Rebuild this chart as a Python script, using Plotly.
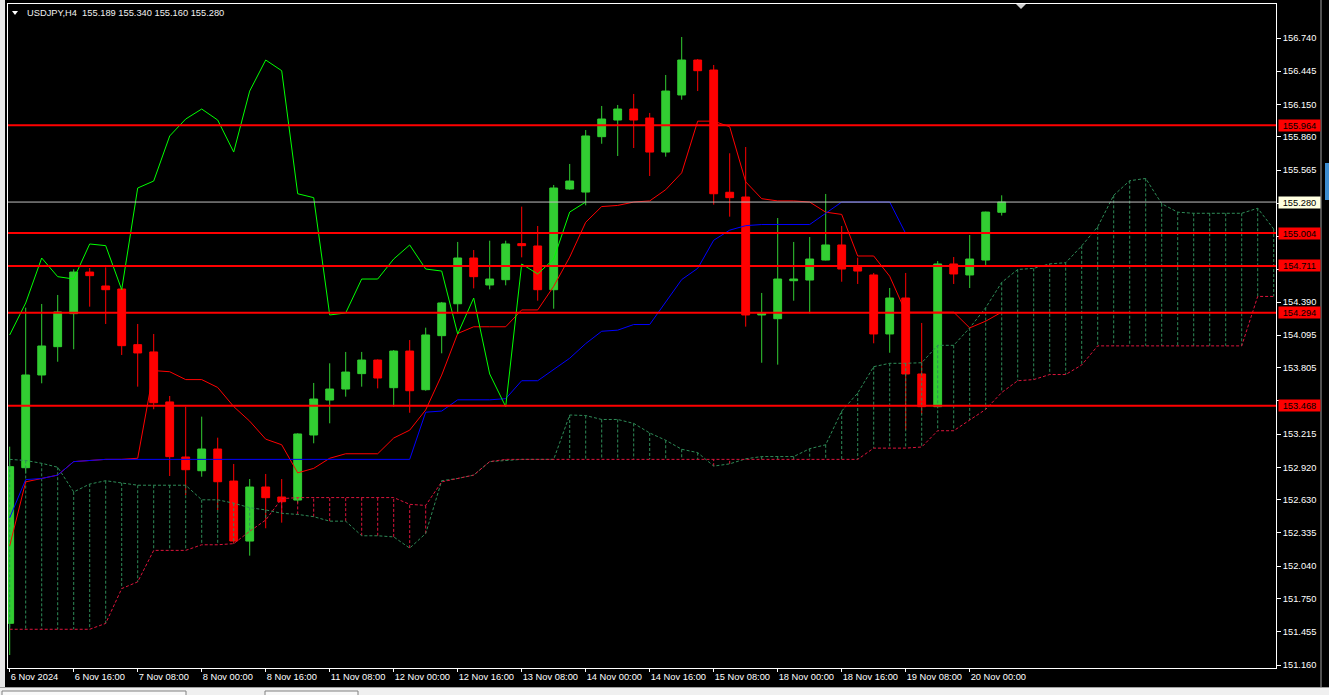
import plotly.graph_objects as go

# ---------------- data ----------------
opens = [151.531, 152.916, 153.741, 153.993, 154.287, 154.657, 154.533, 154.506, 154.011, 153.946,
         153.501, 153.011, 152.889, 153.082, 152.797, 152.263, 152.744, 152.655, 152.628, 153.207,
         153.518, 153.616, 153.753, 153.874, 153.628, 153.954, 153.610, 154.091, 154.375, 154.782,
         154.542, 154.589, 154.910, 154.889, 154.500, 155.396, 155.369, 155.862, 156.010, 156.108,
         156.028, 155.725, 156.233, 156.544, 156.455, 155.367, 155.325, 154.275, 154.242, 154.580,
         154.586, 154.764, 154.898, 154.714, 154.631, 154.106, 154.426, 153.750, 153.459, 154.729,
         154.631, 154.764, 155.189]
highs = [153.103, 154.340, 154.373, 154.453, 154.681, 154.693, 154.699, 154.510, 154.195, 154.106,
         153.554, 153.459, 153.370, 153.183, 152.949, 152.815, 152.860, 152.815, 153.222, 153.670,
         153.845, 153.946, 153.946, 153.880, 153.963, 154.052, 154.162, 154.391, 154.925, 154.853,
         154.936, 154.936, 155.239, 155.067, 155.432, 155.619, 155.921, 156.135, 156.144, 156.242,
         156.073, 156.411, 156.749, 156.553, 156.500, 155.714, 155.770, 154.471, 155.138, 154.925,
         154.969, 155.352, 155.067, 154.785, 154.649, 154.515, 154.649, 154.204, 154.755, 154.791,
         154.987, 155.195, 155.340]
lows = [151.249, 152.866, 153.667, 153.859, 153.970, 154.349, 154.195, 153.919, 153.637, 153.436,
        152.842, 152.673, 152.836, 152.539, 152.240, 152.133, 152.377, 152.427, 152.604, 153.133,
        153.311, 153.548, 153.637, 153.622, 153.459, 153.405, 153.601, 153.934, 154.290, 154.512,
        154.503, 154.539, 154.788, 154.402, 154.331, 155.390, 155.251, 155.799, 155.690, 155.761,
        155.512, 155.684, 156.191, 156.268, 155.257, 155.150, 154.171, 153.850, 153.833, 154.402,
        154.290, 154.760, 154.571, 154.551, 154.023, 153.939, 153.251, 153.394, 153.455, 154.551,
        154.515, 154.711, 155.160]
closes = [152.925, 153.741, 153.999, 154.302, 154.657, 154.625, 154.500, 154.002, 153.937, 153.494,
          153.014, 152.898, 153.082, 152.791, 152.263, 152.744, 152.649, 152.613, 153.216, 153.527,
          153.616, 153.767, 153.874, 153.714, 153.954, 153.601, 154.097, 154.382, 154.782, 154.616,
          154.595, 154.907, 154.892, 154.500, 155.405, 155.467, 155.868, 156.019, 156.108, 156.010,
          155.725, 156.268, 156.544, 156.449, 155.354, 155.319, 154.275, 154.293, 154.595, 154.595,
          154.773, 154.898, 154.684, 154.666, 154.106, 154.426, 153.750, 153.459, 154.729, 154.640,
          154.773, 155.191, 155.280]

tenkan = [152.22, 152.79, 152.82, 152.85, 152.97, 152.98, 152.99, 152.99, 153.00, 153.78,
          153.77, 153.70, 153.70, 153.63, 153.46, 153.33, 153.17, 153.12, 152.87, 152.91,
          153.00, 153.04, 153.04, 153.04, 153.18, 153.25, 153.43, 153.74, 154.11, 154.17,
          154.17, 154.17, 154.32, 154.32, 154.53, 154.79, 155.10, 155.24, 155.25, 155.28,
          155.29, 155.39, 155.54, 156.00, 156.00, 155.95, 155.46, 155.31, 155.29, 155.29,
          155.28, 155.19, 155.17, 154.80, 154.80, 154.62, 154.30, 154.30, 154.30, 154.30,
          154.16, 154.22, 154.30]
kijun = [152.47, 152.81, 152.82, 152.85, 152.97, 152.98, 152.99, 152.99, 152.99, 152.99,
         152.99, 152.99, 152.99, 152.99, 152.99, 152.99, 152.99, 152.99, 152.99, 152.99,
         152.99, 152.99, 152.99, 152.99, 152.99, 152.99, 153.41, 153.42, 153.52, 153.52,
         153.52, 153.53, 153.69, 153.69, 153.79, 153.89, 154.02, 154.13, 154.14, 154.19,
         154.19, 154.39, 154.59, 154.69, 154.94, 155.03, 155.07, 155.08, 155.08, 155.08,
         155.08, 155.18, 155.28, 155.28, 155.28, 155.28, 155.00, 155.00, 155.00, 155.00,
         155.00, 155.00, 155.00]
span_a = [152.99, 152.98, 152.955, 152.92, 152.70, 152.77, 152.80, 152.78, 152.76, 152.76,
          152.76, 152.76, 152.63, 152.63, 152.60, 152.56, 152.54, 152.51, 152.50, 152.48,
          152.44, 152.44, 152.31, 152.31, 152.30, 152.20, 152.33, 152.80, 152.82, 152.85,
          152.97, 152.98, 152.99, 152.99, 152.99, 153.385, 153.38, 153.345, 153.345, 153.31,
          153.225, 153.16, 153.08, 153.05, 152.93, 152.95, 152.995, 153.015, 153.015, 153.015,
          153.085, 153.12, 153.42, 153.58, 153.815, 153.845, 153.845, 153.85, 154.005, 154.005,
          154.16, 154.34, 154.565, 154.68, 154.69, 154.73, 154.74, 154.89, 155.06, 155.34,
          155.47, 155.49, 155.265, 155.19, 155.18, 155.18, 155.18, 155.18, 155.225, 155.04]
span_b = [151.478, 151.478, 151.478, 151.478, 151.478, 151.478, 151.53, 151.84, 151.90, 152.18,
          152.18, 152.18, 152.23, 152.23, 152.24, 152.35, 152.45, 152.64, 152.65, 152.65,
          152.65, 152.65, 152.65, 152.65, 152.65, 152.59, 152.58, 152.79, 152.82, 152.85,
          152.97, 152.99, 152.99, 152.99, 152.99, 152.99, 152.99, 152.99, 152.99, 152.99,
          152.99, 152.99, 152.99, 152.99, 152.99, 152.99, 152.99, 152.99, 152.99, 152.99,
          152.99, 152.99, 152.99, 152.99, 153.09, 153.09, 153.09, 153.10, 153.245, 153.245,
          153.34, 153.435, 153.585, 153.69, 153.70, 153.745, 153.745, 153.83, 154.00, 154.00,
          154.00, 154.00, 154.00, 154.00, 154.00, 154.00, 154.00, 154.00, 154.44, 154.44]

level_prices = [155.964, 155.004, 154.711, 154.294, 153.468]
bid_price = 155.280
chikou_shift = 26

time_labels = ["6 Nov 2024", "6 Nov 16:00", "7 Nov 08:00", "8 Nov 00:00", "8 Nov 16:00",
               "11 Nov 08:00", "12 Nov 00:00", "12 Nov 16:00", "13 Nov 08:00", "14 Nov 00:00",
               "14 Nov 16:00", "15 Nov 08:00", "18 Nov 00:00", "18 Nov 16:00", "19 Nov 08:00",
               "20 Nov 00:00"]
time_label_bars = list(range(0, 64, 4))
price_ticks = [156.740, 156.445, 156.150, 155.860, 155.565, 155.270, 154.975, 154.680, 154.390,
               154.095, 153.805, 153.510, 153.215, 152.920, 152.630, 152.335, 152.040, 151.750,
               151.455, 151.160]
# tick values whose labels sit behind the price boxes on the right
hidden_ticks = [155.270, 154.975, 154.680, 153.510]
title_text = "USDJPY,H4  155.189 155.340 155.160 155.280"

# ---------------- layout geometry ----------------
W, H = 1329, 695
ML, MR, MT, MB = 8, 53, 4, 27
PW, PH = W - ML - MR, H - MT - MB
XR = [-0.106, 79.144]
YR = [151.1333, 157.0426]
FONT = "Liberation Sans"
FS = 9.3

def px(xp):
    return (xp - ML) / PW

def py(yp):
    return (H - MB - yp) / PH

bars = list(range(len(closes)))
cloud_x = list(range(len(span_a)))

fig = go.Figure()

# cloud hatching (vertical dotted lines between span A and span B)
hx_g, hy_g, hx_r, hy_r = [], [], [], []
for i, (a, b) in enumerate(zip(span_a, span_b)):
    if a >= b:
        hx_g += [i, i, None]; hy_g += [a, b, None]
    else:
        hx_r += [i, i, None]; hy_r += [a, b, None]
fig.add_trace(go.Scatter(x=hx_g, y=hy_g, mode="lines",
                         line=dict(color="#2E8B57", width=1, dash="3px,2px"), hoverinfo="skip"))
fig.add_trace(go.Scatter(x=hx_r, y=hy_r, mode="lines",
                         line=dict(color="#DC143C", width=1, dash="3px,2px"), hoverinfo="skip"))
fig.add_trace(go.Scatter(x=cloud_x, y=span_a, mode="lines",
                         line=dict(color="#2E8B57", width=1, dash="3px,2px"), hoverinfo="skip"))
fig.add_trace(go.Scatter(x=cloud_x, y=span_b, mode="lines",
                         line=dict(color="#DC143C", width=1, dash="3px,2px"), hoverinfo="skip"))
fig.add_trace(go.Scatter(x=bars, y=tenkan, mode="lines",
                         line=dict(color="#FF0000", width=1), hoverinfo="skip"))
fig.add_trace(go.Scatter(x=bars, y=kijun, mode="lines",
                         line=dict(color="#0000FF", width=1), hoverinfo="skip"))
chikou = closes[chikou_shift:]
fig.add_trace(go.Scatter(x=bars[:len(chikou)], y=chikou, mode="lines",
                         line=dict(color="#00FF00", width=1), hoverinfo="skip"))

# horizontal levels (drawn above indicators, below candles)
for p in level_prices:
    fig.add_trace(go.Scatter(x=XR, y=[p, p], mode="lines",
                             line=dict(color="#FF0000", width=2), hoverinfo="skip"))
fig.add_trace(go.Scatter(x=XR, y=[bid_price, bid_price], mode="lines",
                         line=dict(color="#C0C0C0", width=1), hoverinfo="skip"))

# candles
fig.add_trace(go.Candlestick(
    x=bars, open=opens, high=highs, low=lows, close=closes,
    increasing=dict(line=dict(color="#32CD32", width=1), fillcolor="#32CD32"),
    decreasing=dict(line=dict(color="#FF0000", width=1), fillcolor="#FF0000"),
    whiskerwidth=0, hoverinfo="skip"))

annotations = []
for p in level_prices:
    annotations.append(dict(x=px(1278), xref="paper", y=p, yref="y", text=f"{p:.3f}",
                            showarrow=False, xanchor="left", yanchor="middle",
                            width=41, height=11, bgcolor="#FF0000", borderpad=0,
                            font=dict(family=FONT, size=FS, color="#000000")))
annotations.append(dict(x=px(1278), xref="paper", y=bid_price, yref="y", text=f"{bid_price:.3f}",
                        showarrow=False, xanchor="left", yanchor="middle",
                        width=41, height=11, bgcolor="#FFFFE0", borderpad=0,
                        font=dict(family=FONT, size=FS, color="#000000")))
annotations.append(dict(x=px(25), xref="paper", y=py(12.5), yref="paper", text=title_text,
                        showarrow=False, xanchor="left", yanchor="middle",
                        font=dict(family=FONT, size=FS, color="#F0F0F0")))

shapes = [
    # window frame pieces outside the chart
    dict(type="rect", xref="paper", yref="paper", x0=px(0), x1=px(5), y0=py(0), y1=py(H),
         fillcolor="#E6E6E6", line=dict(width=0), layer="above"),
    dict(type="rect", xref="paper", yref="paper", x0=px(0), x1=px(W), y0=py(688), y1=py(H),
         fillcolor="#F0F0F0", line=dict(width=0), layer="above"),
    dict(type="line", xref="paper", yref="paper", x0=px(0), x1=px(W), y0=py(687.5), y1=py(687.5),
         line=dict(color="#A0A0A0", width=1), layer="above"),
    dict(type="rect", xref="paper", yref="paper", x0=px(2), x1=px(186), y0=py(691), y1=py(H + 2),
         fillcolor="#F8F8F8", line=dict(color="#808080", width=1), layer="above"),
    dict(type="rect", xref="paper", yref="paper", x0=px(265), x1=px(358), y0=py(691), y1=py(H + 2),
         fillcolor="#F8F8F8", line=dict(color="#808080", width=1), layer="above"),
    dict(type="line", xref="paper", yref="paper", x0=px(1321), x1=px(1321), y0=py(0), y1=py(688),
         line=dict(color="#A0A0A0", width=1), layer="above"),
    dict(type="rect", xref="paper", yref="paper", x0=px(1325), x1=px(W), y0=py(163), y1=py(200),
         fillcolor="#3C8CD0", line=dict(width=0), layer="above"),
    # title triangle and chart-shift marker
    dict(type="path", xref="paper", yref="paper",
         path=f"M {px(12)},{py(11)} L {px(18)},{py(11)} L {px(15)},{py(15)} Z",
         fillcolor="#FFFFFF", line=dict(width=0), layer="above"),
    dict(type="path", xref="paper", yref="paper",
         path=f"M {px(1016)},{py(4)} L {px(1026)},{py(4)} L {px(1021)},{py(9)} Z",
         fillcolor="#D0D0D0", line=dict(width=0), layer="above"),
]

y_ticktext = ["" if v in hidden_ticks else f"{v:.3f}" for v in price_ticks]

fig.update_layout(
    width=W, height=H, autosize=False,
    margin=dict(l=ML, r=MR, t=MT, b=MB, pad=0, autoexpand=False),
    paper_bgcolor="#000000", plot_bgcolor="#000000",
    showlegend=False, hovermode=False,
    annotations=annotations, shapes=shapes,
    xaxis=dict(range=XR, showgrid=False, zeroline=False, rangeslider=dict(visible=False),
               automargin=False, tickangle=0,
               tickmode="array", tickvals=time_label_bars, ticktext=time_labels,
               ticks="outside", ticklen=3, tickcolor="#FFFFFF", ticklabelposition="outside right",
               tickfont=dict(family=FONT, size=FS, color="#FFFFFF"),
               showline=True, linecolor="#FFFFFF", linewidth=1, mirror=True, fixedrange=True),
    yaxis=dict(range=YR, side="right", showgrid=False, zeroline=False, automargin=False,
               tickmode="array", tickvals=price_ticks, ticktext=y_ticktext,
               ticks="outside", ticklen=4, tickcolor="#FFFFFF",
               tickfont=dict(family=FONT, size=FS, color="#FFFFFF"),
               showline=True, linecolor="#FFFFFF", linewidth=1, mirror=True, fixedrange=True),
)

fig.write_html("out.html", config={"displayModeBar": False},
               post_script="document.body.style.margin='0';document.body.style.overflow='hidden';")
